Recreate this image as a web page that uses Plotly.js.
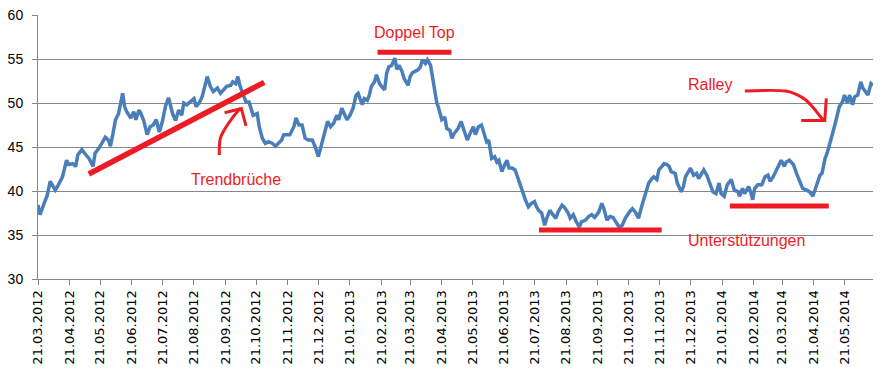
<!DOCTYPE html>
<html>
<head>
<meta charset="utf-8">
<script src="https://cdn.plot.ly/plotly-3.0.1.min.js"></script>
<style>
html,body{margin:0;padding:0;background:#fff;}
#chart{width:888px;height:371px;}
</style>
</head>
<body>
<div id="chart"></div>
<script>
// ---- data (days counted from 21.03.2012) ----
const startDateISO = '2012-03-21';
const tradeDay = [0,2,6,9,12,15,17,20,24,28,30,34,37,39,43,47,50,54,56,60,63,66,69,71,73,76,79,81,83,85,87,91,94,96,99,101,104,107,110,113,116,119,122,125,128,132,135,138,141,143,146,149,153,155,158,161,163,166,169,172,176,179,182,185,189,191,194,196,198,201,204,207,209,211,215,217,220,223,226,230,233,236,239,241,244,247,251,253,256,259,262,265,269,272,275,277,279,282,284,287,290,293,295,298,301,303,306,309,312,314,318,320,323,325,327,330,332,335,337,340,342,344,347,350,352,354,357,359,363,365,367,370,373,375,377,380,382,385,386,389,391,393,396,399,401,404,406,408,412,415,417,421,424,427,429,432,435,437,440,442,445,448,450,452,455,457,460,462,465,468,471,473,476,478,481,484,487,489,491,494,497,499,502,505,508,510,514,516,520,522,525,528,531,533,537,540,543,546,550,553,555,558,561,564,567,570,573,576,580,583,586,589,592,595,597,599,602,604,607,609,612,614,617,619,621,625,627,631,633,635,638,640,643,646,648,651,653,656,659,662,665,668,670,673,676,680,683,687,688,691,693,697,699,701,703,706,710,713,716,718,721,724,727,729,732,734,737,741,744,747,750,754,757,760,762,765,767,769,772,774,777,779,782,784,786,789,791,794,796,799,801,804,807,809,812,814,817,819];
const closePrice = [38.4,37.3,38.6,39.5,41.1,40.5,40.1,40.7,41.6,43.5,43.0,43.1,42.8,44.1,44.7,44.1,43.7,42.8,44.3,44.9,45.6,46.1,45.8,45.1,46.2,48.1,48.8,50.1,51.1,49.6,49.0,48.3,49.0,48.1,49.2,48.8,47.9,46.4,47.3,47.5,48.1,46.7,47.9,49.6,50.6,48.8,48.0,49.2,48.6,50.0,49.8,50.1,50.5,49.6,50.0,50.7,51.5,53.0,51.9,51.3,51.7,51.1,51.5,51.9,52.0,52.4,52.2,53.0,52.0,51.1,50.1,50.1,49.4,48.6,48.8,47.3,46.0,45.4,45.6,45.4,45.1,45.4,45.8,46.4,46.4,46.4,47.3,48.3,47.5,47.5,46.0,45.8,45.8,45.0,43.9,44.8,45.8,46.9,47.9,47.3,47.7,48.6,48.1,49.4,48.6,48.1,48.6,49.4,50.9,51.1,49.8,50.5,50.3,50.9,51.9,52.4,53.2,52.2,51.9,51.5,53.4,54.1,54.3,55.1,53.8,54.3,53.6,52.8,52.0,53.0,53.4,53.6,53.8,54.1,54.9,54.5,54.9,54.3,53.6,51.9,50.1,49.4,48.1,48.4,47.1,46.9,46.0,46.5,47.1,47.9,47.1,45.8,46.6,47.3,46.4,47.3,47.5,46.7,45.6,45.8,43.7,43.9,43.3,43.5,42.2,42.8,43.5,42.6,42.6,42.4,41.3,40.5,39.7,39.0,38.2,38.6,38.8,38.2,37.8,37.5,36.1,36.9,37.8,37.3,36.9,37.6,38.4,38.2,37.5,36.9,37.3,36.5,35.9,36.5,36.7,37.1,37.3,37.0,37.6,38.6,38.0,36.7,37.1,37.0,36.5,35.9,36.1,36.9,37.6,38.0,37.6,36.9,38.2,39.5,40.3,40.9,41.4,41.6,41.3,42.4,42.8,43.1,43.0,42.8,42.2,42.0,40.9,39.9,40.5,41.6,42.2,42.6,41.8,42.0,41.4,42.0,42.4,41.8,40.9,39.9,39.7,40.9,39.7,39.4,40.7,41.3,40.1,39.9,39.4,40.3,39.7,40.5,39.9,39.0,40.3,40.7,40.7,41.6,41.8,41.1,41.6,42.4,43.1,43.5,42.8,43.3,43.5,43.0,42.0,41.1,40.3,40.1,39.9,39.4,40.1,41.3,41.8,42.0,43.7,44.3,45.8,46.4,47.7,48.6,49.6,50.1,50.9,50.0,50.9,49.8,50.7,50.9,52.4,51.7,51.3,50.9,52.2,52.0];
const tickLabels = ['21.03.2012','21.04.2012','21.05.2012','21.06.2012','21.07.2012','21.08.2012','21.09.2012','21.10.2012','21.11.2012','21.12.2012','21.01.2013','21.02.2013','21.03.2013','21.04.2013','21.05.2013','21.06.2013','21.07.2013','21.08.2013','21.09.2013','21.10.2013','21.11.2013','21.12.2013','21.01.2014','21.02.2014','21.03.2014','21.04.2014','21.05.2014'];
const yRange = [30, 60];
const xEndDay = 819;

// ---- helpers ----
const t0 = Date.parse(startDateISO + 'T00:00:00Z');
function dayToDate(d){
  return new Date(t0 + d*86400000).toISOString().slice(0,19).replace('T',' ');
}
function labelToDate(s){
  const p = s.split('.');
  return p[2] + '-' + p[1] + '-' + p[0];
}

const RED = '#ed1c24';
const BLUE = '#4a7ebb';

// annotation drawings in (day, value) coordinates
const marks = [
  {d:[49.8,221.9], v:[41.93,52.35], w:5.5, shape:'linear'},               // trend line
  {d:[333,405.5], v:[55.76,55.76], w:5, shape:'linear'},                   // Doppel Top
  {d:[491.4,611.7], v:[35.57,35.57], w:5, shape:'linear'},                 // support 1
  {d:[678.6,775.6], v:[38.3,38.3], w:5, shape:'linear'},                   // support 2
  {d:[177.9,178.8,183.7,190.3,198.4], v:[44.09,45.99,47.13,48.26,49.40], w:3, shape:'spline'},
  {d:[183.0,199.4,204.0], v:[48.90,49.38,47.39], w:3, shape:'linear'},
  {d:[693.3,733.5,743.3,753.1,760.9,767.5,770.7], v:[51.36,51.36,51.02,50.34,49.40,48.44,48.07], w:3, shape:'spline'},
  {d:[748.6,771.7,773.2], v:[48.01,48.01,50.53], w:3, shape:'linear'}
];

const traces = [{
  type:'scatter', mode:'lines',
  x: tradeDay.map(dayToDate), y: closePrice,
  line:{color:BLUE, width:3.5},
  hoverinfo:'skip', showlegend:false
}];
marks.forEach(m => traces.push({
  type:'scatter', mode:'lines',
  x: m.d.map(dayToDate), y: m.v,
  line:{color:RED, width:m.w, shape:m.shape},
  hoverinfo:'skip', showlegend:false
}));

const textFont = {family:'Liberation Sans, Arial, sans-serif', size:16, color:RED};
const texts = [
  {t:'Trendbrüche', d:194.5, v:41.36},
  {t:'Doppel Top', d:369.4, v:57.99},
  {t:'Ralley', d:659, v:52.1},
  {t:'Unterstützungen', d:695, v:34.32}
];

const layout = {
  width:888, height:371,
  margin:{l:38, r:15, t:15, b:92, pad:0},
  paper_bgcolor:'#fff', plot_bgcolor:'#fff',
  showlegend:false,
  xaxis:{
    type:'date',
    range:[dayToDate(0), dayToDate(xEndDay)],
    tickmode:'array',
    tickvals: tickLabels.map(labelToDate),
    ticktext: tickLabels,
    tickangle:-90,
    ticks:'outside', ticklen:5, tickcolor:'#868686', tickwidth:1,
    showgrid:false, zeroline:false,
    showline:true, linecolor:'#868686', linewidth:1,
    tickfont:{family:'DejaVu Sans, sans-serif', size:13, color:'#000'},
    fixedrange:true
  },
  yaxis:{
    range:yRange, dtick:5, tick0:30,
    ticks:'outside', ticklen:5, tickcolor:'#868686', tickwidth:1,
    showgrid:true, gridcolor:'#868686', gridwidth:1,
    zeroline:false,
    showline:true, linecolor:'#868686', linewidth:1,
    tickfont:{family:'Liberation Sans, Arial, sans-serif', size:14, color:'#000'},
    ticklabelstandoff:6,
    fixedrange:true
  },
  annotations: texts.map(a => ({
    text:a.t, x:dayToDate(a.d), y:a.v, xref:'x', yref:'y',
    showarrow:false, xanchor:'center', yanchor:'middle', font:textFont
  }))
};

Plotly.newPlot('chart', traces, layout, {displayModeBar:false, staticPlot:true});
</script>
</body>
</html>
